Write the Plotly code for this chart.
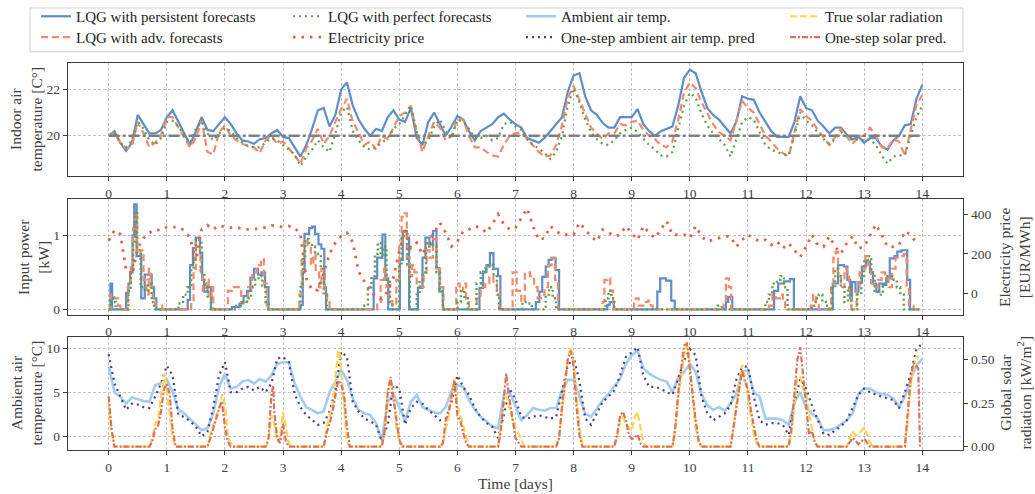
import numpy as np
import plotly.graph_objects as go

# ---------------- data ----------------
t = np.round(np.arange(0, 14.001, 0.1), 1)

temp_persist = [20.0, 20.2, 19.7, 19.35, 19.7, 20.9, 20.5, 20.1, 20.1, 20.25,
                20.8, 21.1, 20.6, 20.1, 19.6, 20.2, 20.8, 20.25, 20.2, 20.5,
                20.8, 20.5, 20.1, 19.8, 19.75, 19.65, 19.85, 19.9, 20.1, 20.25,
                19.95, 19.9, 19.5, 19.1, 19.6, 20.3, 21.1, 21.2, 20.4, 20.9,
                22.0, 22.3, 21.3, 20.7, 20.3, 20.0, 20.3, 20.2, 20.8, 21.1,
                20.7, 20.6, 21.2, 19.9, 19.6, 20.6, 21.0, 20.5, 20.0, 20.4,
                20.85, 20.7, 20.2, 19.8, 20.2, 20.35, 20.5, 20.8, 20.95, 20.7,
                20.5, 20.35, 19.9, 19.8, 19.7, 19.9, 20.2, 20.45, 20.8, 21.9,
                22.6, 22.7, 21.7, 21.1, 20.9, 20.55, 20.35, 20.35, 20.8, 20.8,
                20.8, 21.15, 20.5, 20.2, 20.0, 20.2, 20.3, 20.4, 21.3, 22.5,
                22.85, 22.7, 21.9, 21.2, 20.9, 20.7, 20.4, 20.1, 20.6, 21.7,
                21.6, 21.55, 21.0, 20.6, 20.2, 19.95, 19.95, 19.95, 20.6, 21.7,
                21.2, 21.1, 20.65, 20.4, 20.1, 20.35, 20.35, 20.05, 19.85, 19.95,
                19.7, 19.9, 19.9, 19.55, 19.4, 19.8, 20.0, 20.45, 20.5, 21.6,
                22.2]

temp_adv = [20.0, 20.1, 19.7, 19.45, 19.55, 20.6, 20.1, 19.5, 19.7, 20.0,
            20.8, 20.8, 20.35, 19.9, 19.5, 19.9, 20.65, 19.3, 19.2, 20.15,
            20.45, 20.0, 19.8, 19.65, 19.55, 19.5, 19.25, 19.8, 20.0, 19.65,
            19.75, 19.45, 19.15, 18.8, 19.45, 19.8, 20.3, 19.65, 20.0, 20.6,
            21.15, 21.6, 20.6, 20.15, 19.6, 19.75, 19.4, 20.0, 19.85, 20.35,
            20.85, 21.0, 21.3, 20.15, 19.3, 20.0, 20.6, 20.35, 19.8, 20.0,
            20.7, 20.7, 20.0, 19.5, 19.5, 19.3, 19.15, 19.1, 19.6, 20.0,
            20.1, 20.15, 19.85, 19.6, 19.3, 19.1, 19.15, 19.6, 20.45, 21.65,
            22.15, 21.55, 20.95, 20.35, 20.1, 19.85, 20.1, 20.1, 20.5, 20.45,
            20.6, 20.65, 20.25, 20.0, 19.85, 19.6, 19.5, 19.75, 20.7, 21.85,
            22.3, 22.05, 21.45, 20.95, 20.5, 20.15, 20.0, 19.8, 20.7, 21.5,
            21.2, 21.0, 20.5, 20.0, 19.75, 19.45, 19.25, 19.1, 20.15, 21.15,
            20.85, 20.65, 20.25, 19.95, 19.6, 19.95, 20.3, 19.95, 19.65, 19.95,
            20.0, 20.35, 20.0, 19.5, 19.45, 19.85, 19.75, 19.15, 20.3, 21.35,
            21.75]

temp_perfect = [20.0, 20.1, 19.7, 19.5, 19.8, 20.6, 20.3, 19.8, 19.6, 19.9,
                20.6, 20.65, 20.4, 20.0, 19.7, 20.3, 20.6, 20.1, 19.8, 20.1,
                20.35, 20.2, 19.9, 19.7, 19.55, 19.5, 19.5, 19.7, 19.9, 19.8,
                19.6, 19.4, 19.2, 18.7, 19.1, 19.4, 19.8, 19.5, 19.3, 20.1,
                21.0, 21.25, 20.2, 19.8, 19.5, 19.4, 19.5, 19.7, 19.9, 20.3,
                20.5, 20.9, 21.3, 20.2, 19.6, 19.8, 20.4, 20.7, 20.2, 19.9,
                20.7, 20.6, 20.3, 19.9, 19.9, 20.0, 19.8, 19.9, 20.5, 20.6,
                20.4, 20.25, 19.85, 19.6, 19.45, 19.25, 19.0, 19.3, 20.0, 21.3,
                22.05, 21.45, 20.7, 20.15, 19.85, 19.65, 19.6, 19.8, 20.1, 20.25,
                20.35, 20.15, 19.85, 19.6, 19.4, 19.15, 19.1, 19.3, 20.3, 21.3,
                21.85, 21.65, 20.95, 20.45, 20.1, 19.85, 19.6, 19.1, 19.85, 20.6,
                20.8, 20.7, 20.15, 19.6, 19.4, 19.3, 19.2, 19.15, 20.0, 21.0,
                20.65, 20.45, 20.15, 19.85, 19.65, 19.85, 20.15, 20.0, 19.8, 19.85,
                19.8, 19.85, 19.6, 19.15, 18.8, 19.1, 19.15, 19.15, 20.0, 20.8,
                21.3]

setpoint_t = [0, 14]
setpoint = [20, 20]

# input power (kW), step changes (day, value)
pow_persist_t = [0.00, 0.03, 0.06, 0.30, 0.34, 0.37, 0.41, 0.44, 0.48, 0.56, 0.62, 0.74, 0.78, 0.82,
                 1.36, 1.40, 1.45, 1.50, 1.57, 1.61, 1.64, 1.70, 1.76,
                 2.12, 2.25, 2.32, 2.38, 2.44, 2.50, 2.57, 2.63, 2.69, 2.75,
                 3.30, 3.34, 3.37, 3.45, 3.50, 3.55, 3.61, 3.66, 3.71, 3.74,
                 4.56, 4.62, 4.71, 4.76, 4.81,
                 5.01, 5.06, 5.13, 5.17,
                 5.32, 5.40, 5.45, 5.52, 5.58, 5.64, 5.69, 5.75,
                 6.38, 6.44, 6.50, 6.56, 6.62, 6.70, 6.74,
                 7.35, 7.41, 7.46, 7.52, 7.57, 7.62, 7.69, 7.75,
                 8.58, 8.62, 8.69,
                 9.44, 9.49, 9.59, 9.68, 9.74,
                 10.62, 10.66, 10.73,
                 11.45, 11.52, 11.62, 11.72, 11.79,
                 12.46, 12.55, 12.65, 12.71, 12.76, 12.79, 12.85, 12.90, 12.96, 13.03,
                 13.10, 13.15, 13.21, 13.26, 13.32, 13.38, 13.44, 13.52, 13.57, 13.64,
                 13.74, 13.79, 13.95]
pow_persist = [0, 0.35, 0, 0.22, 0.35, 0.5, 1.0, 1.42, 0.72, 0.15, 0.47, 0.3, 0.15, 0,
               0.13, 0.6, 0.83, 0.97, 0.76, 0.4, 0.24, 0.3, 0,
               0.03, 0.08, 0.18, 0.25, 0.43, 0.55, 0.47, 0.5, 0.3, 0,
               0.06, 0.5, 1.02, 1.1, 1.12, 1.02, 0.88, 0.82, 0.3, 0,
               0.42, 0.7, 1.01, 0.42, 0,
               0.67, 1.06, 0.97, 0,
               0.29, 0.7, 0.97, 0.88, 1.06, 0.56, 0.24, 0,
               0.29, 0.51, 0.6, 0.76, 0.55, 0.45, 0,
               0.1, 0.24, 0.44, 0.58, 0.67, 0.69, 0.53, 0,
               0.06, 0.1, 0,
               0.24, 0.42, 0.39, 0.12, 0,
               0.1, 0.17, 0,
               0.25, 0.35, 0.38, 0.41, 0,
               0.35, 0.6, 0.58, 0.4, 0.15, 0.37, 0.24, 0.37, 0.58, 0.65,
               0.5, 0.35, 0.24, 0.35, 0.33, 0.42, 0.69, 0.72, 0.78, 0.8,
               0.4, 0, 0]

pow_adv_t = [0.00, 0.04, 0.10, 0.16, 0.20, 0.33, 0.38, 0.42, 0.45, 0.49, 0.55, 0.60, 0.65, 0.69, 0.72, 0.76, 0.80, 0.92,
             1.42, 1.46, 1.50, 1.54, 1.58, 1.62, 1.68, 1.72, 1.77, 1.80,
             2.05, 2.12, 2.22, 2.28, 2.40, 2.47, 2.55, 2.62, 2.67, 2.72,
             3.28, 3.32, 3.36, 3.42, 3.48, 3.52, 3.56, 3.62, 3.66, 3.72, 3.76, 3.80,
             4.62, 4.68, 4.74, 4.78, 4.83, 4.88, 4.95, 5.00, 5.04, 5.09, 5.13, 5.18, 5.22, 5.26, 5.30,
             5.36, 5.42, 5.47, 5.52, 5.58, 5.64, 5.70, 5.76,
             5.98, 6.04, 6.10, 6.15, 6.20, 6.33, 6.40, 6.48, 6.55, 6.62, 6.68, 6.72,
             6.95, 7.02, 7.10, 7.16, 7.25, 7.32, 7.38, 7.44, 7.50, 7.56, 7.62, 7.68, 7.73,
             8.50, 8.53, 8.58, 8.63, 8.68,
             9.04, 9.07, 9.12, 9.22, 9.28, 9.33, 9.36,
             10.58, 10.62, 10.67, 10.71,
             11.36, 11.42, 11.48, 11.55, 11.60, 11.64,
             12.08, 12.12, 12.17, 12.22, 12.43, 12.47, 12.51, 12.55, 12.60, 12.66, 12.70, 12.74, 12.78,
             12.87, 12.92, 12.97, 13.02, 13.07, 13.12, 13.18, 13.24, 13.30, 13.36, 13.42, 13.48, 13.54,
             13.60, 13.68, 13.73, 13.77, 13.85, 13.95]
pow_adv = [0, 0.2, 0.15, 0.05, 0, 0.3, 0.6, 1.1, 1.3, 0.75, 0.8, 0.4, 0.2, 0.55, 0.3, 0.1, 0.05, 0,
           0.1, 0.55, 0.9, 0.85, 0.5, 0.25, 0.4, 0.15, 0.3, 0,
           0.25, 0.3, 0.3, 0.1, 0.3, 0.5, 0.6, 0.68, 0.35, 0,
           0.2, 0.7, 0.95, 0.85, 0.6, 0.75, 0.5, 0.3, 0.55, 0.2, 0.1, 0,
           0.1, 0.4, 0.55, 0.3, 0.15, 0.05, 0.4, 0.85, 1.25, 1.3, 0.7, 0.45, 0.6, 0.5, 0.35,
           0.3, 0.45, 0.8, 0.7, 0.95, 0.55, 0.3, 0,
           0.35, 0.25, 0.35, 0.1, 0, 0.15, 0.3, 0.35, 0.45, 0.35, 0.2, 0,
           0.5, 0.25, 0.1, 0.5, 0.45, 0.3, 0.15, 0.2, 0.3, 0.6, 0.7, 0.4, 0,
           0.1, 0.4, 0.42, 0.25, 0,
           0.1, 0.15, 0.05, 0.1, 0.12, 0.05, 0,
           0.1, 0.42, 0.3, 0,
           0.05, 0.2, 0.15, 0.2, 0.1, 0,
           0.05, 0.2, 0.08, 0, 0.3, 0.7, 0.78, 0.45, 0.3, 0.55, 0.5, 0.25, 0,
           0.3, 0.5, 0.55, 0.72, 0.6, 0.35, 0.3, 0.4, 0.5, 0.45, 0.3, 0.55, 0.7,
           0.72, 0.75, 0.3, 0.05, 0, 0]

pow_perfect_t = [0.00, 0.03, 0.08, 0.12, 0.34, 0.38, 0.42, 0.45, 0.49, 0.55, 0.62, 0.68, 0.74, 0.78,
                 1.20, 1.28, 1.36, 1.42, 1.46, 1.50, 1.56, 1.60, 1.65, 1.70, 1.76,
                 2.20, 2.30, 2.38, 2.45, 2.52, 2.58, 2.64, 2.70, 2.75,
                 3.30, 3.34, 3.38, 3.44, 3.50, 3.55, 3.60, 3.65, 3.70, 3.75,
                 4.40, 4.46, 4.52, 4.58, 4.63, 4.68, 4.73, 4.78, 4.84, 4.88,
                 5.00, 5.04, 5.09, 5.14, 5.18,
                 5.30, 5.35, 5.40, 5.46, 5.52, 5.58, 5.64, 5.70, 5.75,
                 6.00, 6.06, 6.12, 6.18, 6.33, 6.40, 6.48, 6.55, 6.62, 6.68, 6.72,
                 7.12, 7.20, 7.28, 7.52, 7.58, 7.64, 7.70,
                 8.55, 8.60, 8.65, 8.70,
                 10.48, 10.55,
                 11.30, 11.36, 11.42, 11.50, 11.56, 11.62, 11.68,
                 12.10, 12.16, 12.22, 12.28, 12.34, 12.40, 12.45, 12.50, 12.55, 12.60, 12.66, 12.72, 12.78,
                 12.88, 12.95, 13.00, 13.06, 13.12, 13.18, 13.24, 13.32, 13.40, 13.48, 13.56, 13.62, 13.68,
                 13.95]
pow_perfect = [0, 0.15, 0.1, 0, 0.25, 0.5, 0.9, 1.3, 0.8, 0.3, 0.25, 0.35, 0.1, 0,
               0.08, 0.2, 0.3, 0.55, 0.8, 0.95, 0.9, 0.5, 0.3, 0.15, 0,
               0.05, 0.1, 0.15, 0.3, 0.4, 0.45, 0.3, 0.1, 0,
               0.3, 0.7, 0.95, 0.9, 0.85, 0.75, 0.75, 0.55, 0.2, 0,
               0.05, 0.3, 0.45, 0.75, 0.9, 0.7, 0.85, 0.4, 0.1, 0,
               0.6, 1.0, 1.05, 0.6, 0,
               0.2, 0.4, 0.5, 0.85, 0.9, 0.85, 0.5, 0.25, 0,
               0.1, 0.25, 0.15, 0, 0.35, 0.5, 0.55, 0.6, 0.45, 0.2, 0,
               0.1, 0.08, 0, 0.2, 0.3, 0.15, 0,
               0.15, 0.25, 0.15, 0,
               0.05, 0,
               0.1, 0.2, 0.35, 0.4, 0.45, 0.3, 0,
               0.05, 0.15, 0.2, 0.1, 0.05, 0, 0.3, 0.55, 0.45, 0.3, 0.1, 0.3, 0,
               0.2, 0.45, 0.65, 0.72, 0.5, 0.25, 0.2, 0.35, 0.45, 0.4, 0.3, 0.2, 0,
               0]

t_price = np.round(np.arange(0, 13.901, 0.1), 1)
price = [268, 320, 300, 120, 90, 230, 280, 307, 324, 319,
         336, 336, 336, 319, 281, 161, 324, 345, 324, 345,
         336, 333, 336, 327, 324, 327, 327, 336, 345, 341,
         336, 341, 333, 298, 76, 15, 15, 100, 200, 256,
         290, 307, 260, 110, 60, 10, -20, -30, 10, 80,
         213, 324, 230, 256, 196, 264, 307, 358, 307, 238,
         264, 315, 324, 341, 333, 307, 350, 401, 350, 324,
         332, 384, 431, 341, 271, 280, 341, 315, 297, 297,
         297, 358, 323, 289, 263, 323, 310, 289, 297, 341,
         306, 271, 341, 306, 280, 323, 367, 297, 297, 297,
         280, 341, 289, 263, 271, 280, 289, 289, 236, 271,
         297, 280, 263, 271, 245, 263, 228, 254, 219, 184,
         236, 297, 245, 236, 289, 236, 202, 254, 289, 228,
         236, 297, 350, 297, 236, 236, 245, 315, 297, 254]

amb_temp = [7.9, 5.0, 4.5, 3.7, 4.4, 4.2, 4.0, 3.9, 5.8, 6.0,
            6.5, 5.0, 3.0, 2.6, 2.0, 1.3, 0.7, 0.9, 2.6, 5.6,
            7.1, 5.4, 5.6, 6.2, 6.4, 6.0, 6.5, 6.2, 6.9, 8.2,
            8.4, 8.4, 6.0, 4.5, 3.3, 3.0, 2.6, 2.8, 5.0, 6.2,
            7.5, 6.4, 4.3, 3.0, 2.6, 2.4, 1.5, -0.4, 3.9, 4.8,
            3.2, 1.8, 3.9, 4.7, 3.3, 3.0, 2.7, 2.6, 3.3, 5.2,
            5.8, 5.6, 4.1, 3.0, 2.2, 1.7, 1.1, 0.9, 4.7, 5.0,
            3.5, 1.8, 2.4, 3.2, 3.0, 2.9, 3.2, 3.2, 5.2, 6.4,
            6.4, 4.5, 2.6, 2.2, 3.2, 4.1, 4.8, 5.6, 6.5, 8.2,
            9.2, 9.7, 7.7, 7.1, 6.7, 6.4, 6.2, 5.0, 6.7, 7.3,
            8.2, 7.3, 4.8, 3.5, 3.0, 3.3, 2.9, 3.7, 4.8, 7.3,
            7.5, 5.0, 4.5, 2.0, 2.0, 2.0, 1.8, 1.3, 3.9, 5.0,
            3.2, 2.6, 2.0, 0.7, 0.7, 0.9, 1.3, 1.8, 2.6, 4.8,
            5.4, 5.4, 5.0, 4.8, 4.7, 4.3, 3.3, 4.5, 6.4, 8.0,
            8.8]

amb_pred = [9.3, 6.0, 4.5, 3.0, 3.7, 3.6, 3.3, 3.2, 4.5, 6.0,
            8.0, 6.9, 2.4, 2.2, 1.7, 1.1, 0.0, 0.5, 3.3, 6.9,
            8.4, 5.0, 5.0, 5.4, 5.6, 5.2, 5.6, 5.0, 6.0, 8.8,
            9.0, 8.4, 4.8, 3.3, 2.4, 1.8, 1.3, 1.5, 2.8, 5.2,
            9.6, 9.0, 3.9, 2.8, 2.0, 1.7, 1.3, -0.6, 1.3, 5.8,
            5.4, 1.3, 3.2, 3.9, 3.7, 3.0, 2.4, 1.8, 2.0, 3.9,
            6.9, 5.6, 4.7, 3.2, 2.2, 1.5, 1.1, -0.2, 2.4, 5.4,
            4.2, 2.2, 2.0, 2.2, 2.4, 2.2, 2.0, 2.2, 5.0, 8.0,
            9.0, 6.2, 2.0, 1.3, 2.6, 3.9, 4.5, 5.2, 6.9, 9.0,
            9.5, 10.1, 6.9, 5.6, 5.6, 5.4, 5.0, 4.7, 6.5, 8.6,
            9.9, 9.2, 4.5, 2.6, 1.8, 2.2, 2.6, 3.5, 6.4, 7.9,
            7.9, 4.5, 1.8, 1.3, 1.5, 1.5, 1.3, 0.15, 3.9, 6.5,
            5.4, 3.5, 2.0, 0.3, 0.15, 0.7, 1.1, 1.8, 3.2, 4.7,
            5.4, 5.0, 4.7, 4.5, 4.3, 4.1, 3.2, 5.0, 7.1, 9.9,
            10.5]

solar_true_t = [0.00, 0.05, 0.10, 0.70, 0.75, 0.80, 0.85, 0.90, 0.95, 0.97, 1.00, 1.05, 1.10, 1.15,
                1.70, 1.75, 1.80, 1.85, 1.90, 1.95, 2.00, 2.05, 2.10, 2.15,
                2.70, 2.75, 2.80, 2.85, 2.90, 2.95, 3.00, 3.05, 3.10, 3.15,
                3.70, 3.75, 3.80, 3.85, 3.90, 3.95, 3.97, 4.00, 4.05, 4.10, 4.15,
                4.70, 4.75, 4.80, 4.85, 4.90, 4.95, 5.00, 5.05, 5.10,
                5.70, 5.75, 5.80, 5.85, 5.90, 5.95, 6.00, 6.05, 6.10, 6.15, 6.20,
                6.70, 6.74, 6.80, 6.85, 6.90, 7.00, 7.09, 7.15,
                7.70, 7.75, 7.80, 7.85, 7.90, 7.95, 8.00, 8.05, 8.10, 8.15, 8.20,
                8.70, 8.75, 8.80, 8.85, 8.90, 8.95, 9.00, 9.05, 9.10, 9.15, 9.20, 9.25,
                9.70, 9.75, 9.80, 9.85, 9.90, 9.95, 10.00, 10.05, 10.10, 10.15, 10.20,
                10.70, 10.75, 10.80, 10.85, 10.90, 10.95, 11.00, 11.05, 11.10, 11.15, 11.20,
                11.70, 11.75, 11.80, 11.85, 11.90, 11.95, 12.00, 12.05, 12.10, 12.15, 12.20,
                12.70, 12.75, 12.80, 12.85, 12.90, 12.95, 13.00, 13.05, 13.10, 13.15,
                13.70, 13.75, 13.80, 13.85, 13.90, 13.93]
solar_true = [0.25, 0.08, 0.0, 0.0, 0.05, 0.13, 0.15, 0.30, 0.41, 0.42, 0.32, 0.20, 0.05, 0.0,
              0.0, 0.07, 0.13, 0.18, 0.22, 0.30, 0.24, 0.07, 0.02, 0.0,
              0.0, 0.03, 0.18, 0.13, 0.03, 0.05, 0.20, 0.11, 0.02, 0.0,
              0.0, 0.11, 0.17, 0.24, 0.39, 0.55, 0.55, 0.43, 0.20, 0.03, 0.0,
              0.0, 0.08, 0.32, 0.39, 0.30, 0.11, 0.03, 0.01, 0.0,
              0.0, 0.02, 0.10, 0.17, 0.30, 0.39, 0.24, 0.18, 0.11, 0.05, 0.0,
              0.0, 0.11, 0.25, 0.29, 0.21, 0.11, 0.05, 0.0,
              0.0, 0.05, 0.20, 0.35, 0.50, 0.57, 0.48, 0.31, 0.11, 0.02, 0.0,
              0.0, 0.05, 0.15, 0.17, 0.13, 0.11, 0.09, 0.17, 0.20, 0.11, 0.02, 0.0,
              0.0, 0.10, 0.28, 0.40, 0.52, 0.60, 0.48, 0.27, 0.11, 0.03, 0.0,
              0.0, 0.10, 0.25, 0.35, 0.47, 0.39, 0.29, 0.19, 0.07, 0.02, 0.0,
              0.0, 0.08, 0.25, 0.40, 0.40, 0.33, 0.31, 0.19, 0.11, 0.03, 0.0,
              0.0, 0.045, 0.09, 0.065, 0.07, 0.09, 0.11, 0.07, 0.025, 0.0,
              0.0, 0.15, 0.35, 0.46, 0.52, 0.50]

solar_pred_t = [0.00, 0.05, 0.10, 0.70, 0.75, 0.80, 0.85, 0.90, 0.95, 1.00, 1.05, 1.10, 1.15,
                1.70, 1.75, 1.80, 1.85, 1.90, 1.95, 2.00, 2.05, 2.10,
                2.70, 2.75, 2.80, 2.83, 2.85, 2.90, 2.95, 3.00, 3.05, 3.10,
                3.70, 3.75, 3.80, 3.85, 3.90, 3.95, 4.00, 4.05, 4.10, 4.15,
                4.70, 4.75, 4.80, 4.85, 4.90, 4.95, 5.00, 5.05,
                5.70, 5.75, 5.80, 5.85, 5.90, 5.95, 6.00, 6.05, 6.10, 6.15, 6.20,
                6.70, 6.74, 6.80, 6.84, 6.88, 6.94, 7.00, 7.06, 7.10,
                7.70, 7.75, 7.80, 7.85, 7.90, 7.95, 8.00, 8.05, 8.10, 8.15,
                8.70, 8.75, 8.80, 8.85, 8.90, 8.95, 9.00, 9.05, 9.10, 9.15, 9.20,
                9.70, 9.75, 9.80, 9.85, 9.90, 9.95, 10.00, 10.05, 10.10, 10.15, 10.20,
                10.70, 10.75, 10.80, 10.85, 10.90, 10.95, 11.00, 11.05, 11.10, 11.15, 11.20,
                11.70, 11.75, 11.80, 11.85, 11.90, 11.95, 12.00, 12.05, 12.10, 12.15, 12.20,
                12.70, 12.75, 12.80, 12.85, 12.90, 13.00, 13.05, 13.10,
                13.70, 13.75, 13.80, 13.85, 13.90, 13.93, 13.96]
solar_pred = [0.29, 0.10, 0.0, 0.0, 0.03, 0.10, 0.12, 0.20, 0.33, 0.36, 0.30, 0.10, 0.0,
              0.0, 0.05, 0.10, 0.16, 0.22, 0.26, 0.11, 0.03, 0.0,
              0.0, 0.05, 0.30, 0.35, 0.20, 0.05, 0.02, 0.13, 0.03, 0.0,
              0.0, 0.08, 0.13, 0.20, 0.30, 0.38, 0.36, 0.30, 0.11, 0.0,
              0.0, 0.10, 0.30, 0.40, 0.28, 0.15, 0.04, 0.0,
              0.0, 0.02, 0.15, 0.20, 0.30, 0.38, 0.18, 0.15, 0.08, 0.02, 0.0,
              0.0, 0.07, 0.31, 0.42, 0.31, 0.19, 0.05, 0.02, 0.0,
              0.0, 0.05, 0.23, 0.37, 0.50, 0.55, 0.46, 0.23, 0.07, 0.0,
              0.0, 0.07, 0.18, 0.20, 0.15, 0.07, 0.045, 0.05, 0.07, 0.02, 0.0,
              0.0, 0.11, 0.31, 0.44, 0.58, 0.59, 0.44, 0.31, 0.15, 0.035, 0.0,
              0.0, 0.11, 0.23, 0.34, 0.44, 0.37, 0.33, 0.21, 0.11, 0.035, 0.0,
              0.0, 0.11, 0.31, 0.50, 0.57, 0.40, 0.21, 0.07, 0.09, 0.025, 0.0,
              0.0, 0.025, 0.05, 0.035, 0.015, 0.045, 0.02, 0.0,
              0.0, 0.21, 0.40, 0.48, 0.46, 0.45, 0.0]

day_ticks = list(range(0, 15))

# ---------------- styling ----------------
FONT = "Liberation Serif"
TXT = "#404040"
FRAME = "#3a3a3a"
GRID = "#c4c4c4"

C_PERSIST = "#5f8dc9"
C_ADV = "#f5896b"
C_PERFECT = "#5e9f4e"
C_PRICE = "#e5604a"
C_AMB = "#a3cdee"
C_AMBPRED = "#4a3f8d"
C_SOLAR = "#ffd54d"
C_SOLARPRED = "#d9735f"

fig = go.Figure()

# panel 1: indoor temperature
fig.add_trace(go.Scatter(x=t, y=temp_persist, mode="lines", name="LQG with persistent forecasts",
                         line=dict(color=C_PERSIST, width=2.2), xaxis="x", yaxis="y", legend="legend"))
fig.add_trace(go.Scatter(x=t, y=temp_adv, mode="lines", name="LQG with adv. forecasts",
                         line=dict(color=C_ADV, width=2.2, dash="7px,4px"), xaxis="x", yaxis="y", legend="legend2"))
fig.add_trace(go.Scatter(x=t, y=temp_perfect, mode="lines", name="LQG with perfect forecasts",
                         line=dict(color=C_PERFECT, width=2.2, dash="2px,4px"), xaxis="x", yaxis="y", legend="legend3"))
fig.add_trace(go.Scatter(x=setpoint_t, y=setpoint, mode="lines", showlegend=False,
                         line=dict(color="#7f7f7f", width=2.6, dash="11px,3px,3px,3px"), xaxis="x", yaxis="y"))

# panel 2: input power + price
fig.add_trace(go.Scatter(x=pow_persist_t, y=pow_persist, mode="lines", line_shape="hv", showlegend=False,
                         line=dict(color=C_PERSIST, width=2.2), xaxis="x2", yaxis="y2"))
fig.add_trace(go.Scatter(x=pow_adv_t, y=pow_adv, mode="lines", line_shape="hv", showlegend=False,
                         line=dict(color=C_ADV, width=2.2, dash="7px,4px"), xaxis="x2", yaxis="y2"))
fig.add_trace(go.Scatter(x=pow_perfect_t, y=pow_perfect, mode="lines", line_shape="hv", showlegend=False,
                         line=dict(color=C_PERFECT, width=2.4, dash="2px,3px"), xaxis="x2", yaxis="y2"))
fig.add_trace(go.Scatter(x=t_price, y=price, mode="lines", name="Electricity price",
                         line=dict(color=C_PRICE, width=2.8, dash="2.5px,6px"), xaxis="x2", yaxis="y3",
                         legend="legend4"))

# panel 3: ambient temperature + solar
fig.add_trace(go.Scatter(x=t, y=amb_temp, mode="lines", name="Ambient air temp.",
                         line=dict(color=C_AMB, width=2.6), xaxis="x3", yaxis="y4", legend="legend5"))
fig.add_trace(go.Scatter(x=t, y=amb_pred, mode="lines", name="One-step ambient air temp. pred",
                         line=dict(color=C_AMBPRED, width=2.2, dash="2px,4px"), xaxis="x3", yaxis="y4",
                         legend="legend6"))
fig.add_trace(go.Scatter(x=solar_true_t, y=solar_true, mode="lines", name="True solar radiation",
                         line=dict(color=C_SOLAR, width=2.2, dash="7px,3px"), xaxis="x3", yaxis="y5",
                         legend="legend7"))
fig.add_trace(go.Scatter(x=solar_pred_t, y=solar_pred, mode="lines", name="One-step solar pred.",
                         line=dict(color=C_SOLARPRED, width=2.2, dash="6px,2px,2px,2px"), xaxis="x3", yaxis="y5",
                         legend="legend8"))

W, H = 1035, 494
X0, X1 = 68 / W, 963 / W


def ydom(top, bottom):
    return [1 - bottom / H, 1 - top / H]


tickfont = dict(family=FONT, size=13.5, color=TXT)
titlefont = dict(family=FONT, size=15.5, color=TXT)

xcommon = dict(domain=[X0, X1], range=[-0.7, 14.7], tickmode="array", tickvals=day_ticks,
               ticks="outside", ticklen=4, tickcolor=FRAME, tickfont=tickfont,
               showgrid=True, gridcolor=GRID, griddash="3px,2px", gridwidth=0.8,
               showline=True, linecolor=FRAME, linewidth=1.4, mirror=True, zeroline=False,
               automargin=False)
ycommon = dict(ticks="outside", ticklen=4, tickcolor=FRAME, tickfont=tickfont,
               showgrid=True, gridcolor=GRID, griddash="3px,2px", gridwidth=0.8,
               showline=True, linecolor=FRAME, linewidth=1.4, mirror=True, zeroline=False,
               automargin=False)
yright = dict(ticks="outside", ticklen=4, tickcolor=FRAME, tickfont=tickfont, showgrid=False,
              showline=True, linecolor=FRAME, linewidth=1.4, zeroline=False, automargin=False,
              side="right")

legend_common = dict(orientation="v", yanchor="top", xanchor="left",
                     bgcolor="rgba(0,0,0,0)", borderwidth=0, tracegroupgap=0,
                     font=dict(family=FONT, size=15, color="#222"), itemwidth=30)
col_x = [36, 288, 521, 785]
row_top = [-2, 19]
legends = {}
k = 1
for cx in col_x:
    for ry in row_top:
        key = "legend" if k == 1 else f"legend{k}"
        legends[key] = dict(legend_common, x=cx / W, y=1 - ry / H)
        k += 1


def ytitle(text, xc, yc):
    return dict(text=text, x=xc / W, y=1 - yc / H, xref="paper", yref="paper",
                textangle=-90, showarrow=False, xanchor="center", yanchor="middle",
                font=titlefont, align="center")


annotations = [
    ytitle("Indoor air<br>temperature [C°]", 26, 118),
    ytitle("Input power<br>[kW]", 34, 256),
    ytitle("Electricity price<br>[EUR/MWh]", 1015, 256),
    ytitle("Ambient air<br>temperature [°C]", 26, 393),
    ytitle("Global solar<br>radiation [kW/m<sup>2</sup>]", 1015, 393),
]

fig.update_layout(
    width=W, height=H,
    margin=dict(l=0, r=0, t=0, b=0),
    paper_bgcolor="white", plot_bgcolor="white",
    font=dict(family=FONT, color=TXT),
    xaxis=dict(xcommon, anchor="y"),
    xaxis2=dict(xcommon, anchor="y2"),
    xaxis3=dict(xcommon, anchor="y4", title=dict(text="Time [days]", font=titlefont, standoff=4)),
    yaxis=dict(ycommon, domain=ydom(61, 175), range=[18.25, 23.15], tickvals=[20, 22]),
    yaxis2=dict(ycommon, domain=ydom(198, 314), range=[-0.072, 1.49], tickvals=[0, 1]),
    yaxis3=dict(yright, overlaying="y2", anchor="x2", range=[-110, 478], tickvals=[0, 200, 400]),
    yaxis4=dict(ycommon, domain=ydom(336, 450), range=[-1.58, 11.3], tickvals=[0, 5, 10]),
    yaxis5=dict(yright, overlaying="y4", anchor="x3", range=[-0.02, 0.631],
                tickvals=[0, 0.25, 0.5], ticktext=["0.00", "0.25", "0.50"]),
    annotations=annotations,
    shapes=[dict(type="rect", xref="paper", yref="paper", x0=30 / W, x1=963 / W,
                 y0=1 - 50 / H, y1=1 - 6 / H, line=dict(color="#d0d0d0", width=1),
                 fillcolor="white", layer="below")],
    **legends,
)

fig.write_html("out.html", config={"displayModeBar": False},
               post_script="document.body.style.margin='0px';document.body.style.padding='0px';")
